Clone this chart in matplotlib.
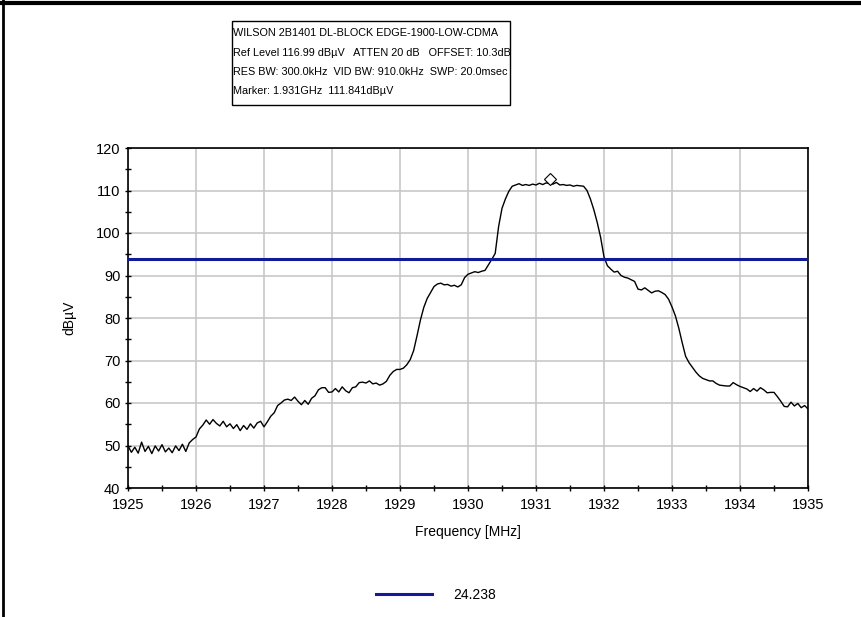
import numpy as np
import matplotlib
matplotlib.use("Agg")
import matplotlib.pyplot as plt
from matplotlib.lines import Line2D
from matplotlib.patches import Rectangle

plt.rcParams['font.family'] = ['Liberation Sans', 'DejaVu Sans']

# trace, 0.05 MHz steps from 1925 to 1935
f_start = 1925.0
f_step = 0.05
level = [
    49.9, 48.4, 49.6, 48.2, 50.8, 48.6, 49.8, 48.1, 49.9, 48.7,
    50.2, 48.5, 49.4, 48.3, 49.9, 48.8, 50.3, 48.6, 50.6, 51.4,
    52.0, 53.9, 54.8, 56.0, 55.0, 56.1, 55.2, 54.6, 55.7, 54.4,
    55.1, 54.0, 54.9, 53.5, 54.7, 53.8, 55.1, 54.1, 55.3, 55.7,
    54.4, 55.6, 56.9, 57.7, 59.4, 60.0, 60.7, 60.9, 60.6, 61.4,
    60.4, 59.6, 60.6, 59.7, 61.1, 61.7, 63.1, 63.6, 63.6, 62.5,
    62.6, 63.4, 62.6, 63.8, 62.9, 62.4, 63.6, 63.8, 64.8, 64.9,
    64.7, 65.2, 64.5, 64.7, 64.2, 64.5, 65.1, 66.5, 67.4, 67.9,
    67.9, 68.2, 69.0, 70.2, 72.3, 75.8, 79.5, 82.5, 84.6, 86.0,
    87.4, 88.0, 88.2, 87.8, 87.9, 87.5, 87.7, 87.3, 87.8, 89.5,
    90.3, 90.6, 90.9, 90.7, 91.0, 91.2, 92.5, 93.8, 95.2, 101.5,
    105.8, 108.0, 109.8, 111.0, 111.3, 111.6, 111.2, 111.4, 111.2, 111.5,
    111.3, 111.7, 111.4, 111.8, 111.6, 111.5, 111.9, 111.3, 111.4, 111.2,
    111.3, 111.0, 111.2, 111.1, 111.0, 110.0, 108.0, 105.5, 102.5, 99.0,
    94.4, 92.3, 91.5, 90.8, 91.0, 90.0, 89.6, 89.4, 89.0, 88.6,
    86.8, 86.6, 87.1, 86.5, 85.9, 86.3, 86.4, 86.0, 85.5, 84.4,
    82.6, 80.5, 77.6, 74.2, 71.0, 69.5, 68.4, 67.3, 66.4, 65.8,
    65.5, 65.2, 65.2, 64.6, 64.2, 64.1, 64.0, 64.0, 64.8, 64.3,
    63.9, 63.6, 63.3, 62.7, 63.4, 62.8, 63.6, 63.1, 62.4, 62.5,
    62.5, 61.5, 60.4, 59.2, 59.1, 60.2, 59.3, 59.9, 58.9, 59.4,
    58.6,
]
freq = f_start + f_step * np.arange(len(level))

limit_level = 94.0
limit_label = "24.238"
marker_freq = 1931.2
marker_level = 111.841

header = [
    "WILSON 2B1401 DL-BLOCK EDGE-1900-LOW-CDMA",
    "Ref Level 116.99 dB\u00b5V   ATTEN 20 dB   OFFSET: 10.3dB",
    "RES BW: 300.0kHz  VID BW: 910.0kHz  SWP: 20.0msec",
    "Marker: 1.931GHz  111.841dB\u00b5V",
]

W, H = 862, 617
fig = plt.figure(figsize=(W / 100, H / 100), dpi=100)
ax = fig.add_axes([128 / W, 1 - 488 / H, 680 / W, 340 / H])

ax.plot(freq, level, color="black", lw=1.0, zorder=3)
ax.axhline(limit_level, color="#121a9a", lw=2.2, zorder=4, label=limit_label)
ax.plot([marker_freq], [marker_level + 0.8], marker="D", ms=6, mfc="white",
        mec="black", mew=0.8, zorder=5)

ax.set_xlim(1925, 1935)
ax.set_ylim(40, 120)
ax.set_xticks(np.arange(1925, 1936, 1))
ax.set_xticks(np.arange(1925, 1935.01, 0.5), minor=True)
ax.set_yticks(np.arange(40, 121, 10))
ax.set_yticks(np.arange(40, 121, 5), minor=True)
ax.grid(True, which="major", color="#c8c8c8", lw=1.2, zorder=0)
ax.tick_params(which="both", direction="inout", length=5, width=1,
               color="black", labelsize=10.5)
ax.tick_params(axis="y", pad=3)
ax.tick_params(axis="x", pad=5)
for s in ax.spines.values():
    s.set_linewidth(1.2)
    s.set_color("black")

ax.set_xlabel("Frequency [MHz]", fontsize=10, labelpad=9)
ax.set_ylabel("dB\u00b5V", fontsize=10, labelpad=14)

ax.legend(loc="center", bbox_to_anchor=(436 / W, 1 - 595 / H),
          bbox_transform=fig.transFigure, frameon=False, fontsize=10,
          handlelength=4.0, handletextpad=1.5)

# header box
fig.add_artist(Rectangle((232 / W, 1 - 105 / H), 278 / W, 84 / H,
                         transform=fig.transFigure, fill=False,
                         edgecolor="black", lw=1.0))
for i, line in enumerate(header):
    fig.text(233 / W, 1 - (33 + i * 19.5) / H, line, fontsize=7.8,
             va="center", ha="left")

# window frame edges
fig.add_artist(Line2D([0, 1], [1 - 3 / H, 1 - 3 / H], transform=fig.transFigure,
                      color="black", lw=3))
fig.add_artist(Line2D([3 / W, 3 / W], [0, 1], transform=fig.transFigure,
                      color="black", lw=2))

fig.savefig("out.png", dpi=100)
